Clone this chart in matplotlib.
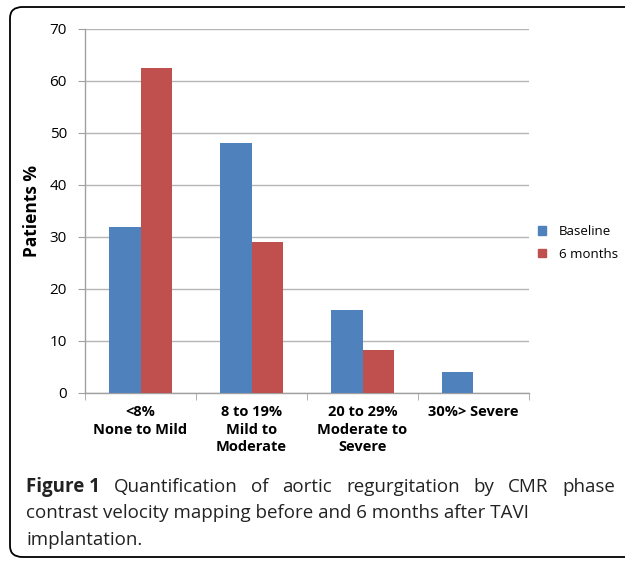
import matplotlib

matplotlib.use("Agg")
import matplotlib.pyplot as plt
from matplotlib.patches import FancyBboxPatch, Patch


categories = ["<8%\nNone to Mild", "8 to 19%\nMild to\nModerate",
              "20 to 29%\nModerate to\nSevere", "30%> Severe"]
baseline = [32, 48, 16, 4]
six_months = [62.5, 29, 8.3, 0]
series_names = ["Baseline", "6 months"]
caption_bold = "Figure 1"
caption_lines = [
    "Quantification of aortic regurgitation by CMR phase",
    "contrast velocity mapping before and 6 months after TAVI",
    "implantation.",
]

BLUE = "#4F81BD"
RED = "#C0504D"
W, H = 625, 562


def fx(px):
    return px / W


def fy(py):
    return 1 - py / H


def draw_chart(fig):
    ax = fig.add_axes([fx(85), fy(393), fx(529) - fx(85), fy(29) - fy(393)])
    x = list(range(len(categories)))
    width = 0.288
    ax.bar([i - width / 2 for i in x], baseline, width, color=BLUE, zorder=3)
    ax.bar([i + width / 2 for i in x], six_months, width, color=RED, zorder=3)

    ax.set_xlim(-0.5, len(categories) - 0.5)
    ax.set_ylim(0, 70)
    ax.set_yticks(range(0, 71, 10))
    ax.yaxis.grid(True, color="#b5b5b5", linewidth=1.0, zorder=0)
    ax.set_axisbelow(True)

    for side in ["top", "right"]:
        ax.spines[side].set_visible(False)
    for side in ["left", "bottom"]:
        ax.spines[side].set_color("#a0a0a0")
        ax.spines[side].set_linewidth(1.0)

    ax.set_xticks(x)
    ax.set_xticklabels(categories, fontweight="bold", fontsize=10.5,
                       linespacing=1.3, va="top")
    ax.tick_params(axis="x", length=0, pad=9)
    ax.set_xticks([i - 0.5 for i in range(len(categories) + 1)], minor=True)
    ax.tick_params(axis="x", which="minor", length=5, color="#a0a0a0")
    ax.tick_params(axis="y", length=5, color="#a0a0a0", pad=8, labelsize=11)

    ax.set_ylabel("Patients %", fontweight="bold", fontsize=12.5, labelpad=6)

    handles = [Patch(color=BLUE), Patch(color=RED)]
    fig.legend(handles, series_names, loc="center left",
               bbox_to_anchor=(fx(526), fy(243)), frameon=False,
               fontsize=9.5, handlelength=0.6, handleheight=0.6,
               handletextpad=1.0, labelspacing=0.75)


def draw_caption(fig):
    renderer = fig.canvas.get_renderer()
    left, right = fx(26), fx(615)
    size = 13.5
    ys = [fy(487), fy(513), fy(540)]

    # first line is justified: "Figure 1" bold, then spread words
    words = [(caption_bold, "bold")] + [(w, "normal") for w in caption_lines[0].split()]
    texts = []
    for word, weight in words:
        t = fig.text(0, ys[0], word, fontsize=size, fontweight=weight,
                     va="center", ha="left", color="#222222")
        texts.append(t)
    widths = [t.get_window_extent(renderer).width / W for t in texts]
    gap = (right - left - sum(widths)) / (len(texts) - 1)
    pos = left
    for t, w in zip(texts, widths):
        t.set_x(pos)
        pos += w + gap

    for line, y in zip(caption_lines[1:], ys[1:]):
        fig.text(left, y, line, fontsize=size, va="center", ha="left",
                 color="#222222")


def main():
    plt.rcParams["font.family"] = ["Open Sans", "DejaVu Sans"]
    fig = plt.figure(figsize=(W / 100, H / 100), dpi=100)

    border = FancyBboxPatch((fx(10), fy(557)), 1.2, fy(7) - fy(557),
                            boxstyle="round,pad=0,rounding_size=0.02",
                            transform=fig.transFigure, fill=False,
                            edgecolor="black", linewidth=1.3)
    fig.patches.append(border)

    draw_chart(fig)
    draw_caption(fig)
    fig.savefig("out.png", dpi=100)
    plt.close(fig)


if __name__ == "__main__":
    main()
